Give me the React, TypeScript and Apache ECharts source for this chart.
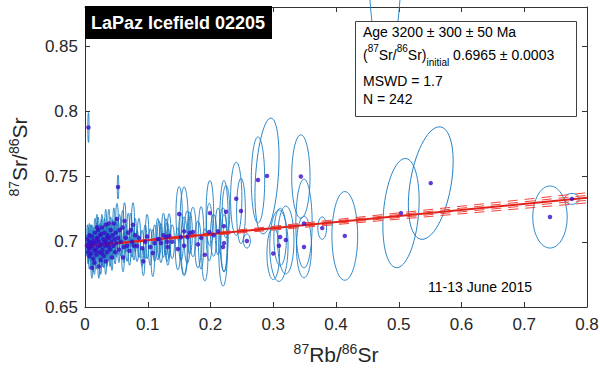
import React, { useEffect, useRef } from 'react';
import * as echarts from 'echarts';

// [87Rb/86Sr, 87Sr/86Sr, semi-axis x, semi-axis y, tilt deg]
const lowRbCluster: number[][] = [
  [0.003, 0.697, 0.0012, 0.008], [0.004, 0.702, 0.0012, 0.011], [0.005, 0.692, 0.0013, 0.009],
  [0.0055, 0.7876, 0.0010, 0.0115], [0.006, 0.699, 0.0014, 0.012], [0.007, 0.689, 0.0014, 0.010],
  [0.007, 0.705, 0.0014, 0.009], [0.008, 0.695, 0.0014, 0.008], [0.009, 0.700, 0.0014, 0.013],
  [0.010, 0.691, 0.0014, 0.010], [0.011, 0.680, 0.0014, 0.008], [0.011, 0.704, 0.0014, 0.009],
  [0.012, 0.697, 0.0014, 0.011], [0.013, 0.687, 0.0014, 0.010], [0.014, 0.701, 0.0014, 0.010],
  [0.015, 0.694, 0.0014, 0.012], [0.016, 0.707, 0.0016, 0.011], [0.017, 0.699, 0.0014, 0.009],
  [0.018, 0.690, 0.0014, 0.011], [0.019, 0.703, 0.0014, 0.012], [0.020, 0.696, 0.0014, 0.009],
  [0.021, 0.709, 0.0014, 0.010], [0.022, 0.681, 0.0014, 0.009], [0.022, 0.700, 0.0014, 0.013],
  [0.023, 0.692, 0.0014, 0.010], [0.024, 0.705, 0.0014, 0.009], [0.025, 0.686, 0.0014, 0.011],
  [0.026, 0.698, 0.0014, 0.011], [0.027, 0.711, 0.0014, 0.010], [0.028, 0.694, 0.0014, 0.013],
  [0.029, 0.702, 0.0016, 0.010], [0.030, 0.689, 0.0014, 0.009], [0.031, 0.707, 0.0014, 0.011],
  [0.032, 0.697, 0.0014, 0.010], [0.033, 0.713, 0.0014, 0.012], [0.034, 0.700, 0.0016, 0.011],
  [0.035, 0.692, 0.0014, 0.011], [0.036, 0.705, 0.0014, 0.010], [0.037, 0.698, 0.0014, 0.013],
  [0.038, 0.714, 0.0016, 0.011], [0.039, 0.703, 0.0014, 0.010], [0.040, 0.694, 0.0014, 0.013],
  [0.041, 0.709, 0.0014, 0.010], [0.042, 0.700, 0.0016, 0.012], [0.043, 0.688, 0.0014, 0.010],
  [0.044, 0.705, 0.0014, 0.012], [0.045, 0.697, 0.0014, 0.010], [0.046, 0.714, 0.0016, 0.012],
  [0.047, 0.702, 0.0014, 0.011], [0.048, 0.692, 0.0014, 0.009], [0.049, 0.707, 0.0014, 0.012],
  [0.050, 0.699, 0.0016, 0.011], [0.006, 0.695, 0.0012, 0.010], [0.009, 0.697, 0.0014, 0.009],
  [0.013, 0.699, 0.0014, 0.010], [0.017, 0.693, 0.0014, 0.011], [0.020, 0.702, 0.0014, 0.010],
  [0.024, 0.697, 0.0014, 0.012], [0.027, 0.691, 0.0014, 0.010], [0.031, 0.700, 0.0014, 0.011],
  [0.035, 0.703, 0.0014, 0.012], [0.038, 0.696, 0.0014, 0.010], [0.015, 0.684, 0.0014, 0.009],
  [0.019, 0.711, 0.0014, 0.010], [0.026, 0.706, 0.0014, 0.011], [0.033, 0.685, 0.0014, 0.010],
];

const midRb: number[][] = [
  [0.0526, 0.742, 0.0012, 0.0092], [0.051, 0.7175, 0.002, 0.012], [0.053, 0.703, 0.002, 0.013],
  [0.054, 0.694, 0.0016, 0.010], [0.055, 0.709, 0.002, 0.012], [0.057, 0.700, 0.0016, 0.011],
  [0.0606, 0.688, 0.002, 0.011], [0.060, 0.711, 0.002, 0.013], [0.062, 0.696, 0.002, 0.012],
  [0.063, 0.716, 0.0022, 0.014], [0.065, 0.703, 0.002, 0.011], [0.067, 0.697, 0.002, 0.012],
  [0.069, 0.707, 0.0022, 0.015], [0.071, 0.693, 0.002, 0.011], [0.073, 0.709, 0.002, 0.013],
  [0.075, 0.700, 0.002, 0.012], [0.0765, 0.713, 0.0025, 0.017], [0.078, 0.697, 0.002, 0.011],
  [0.080, 0.705, 0.002, 0.013], [0.083, 0.6968, 0.0025, 0.012], [0.086, 0.703, 0.0025, 0.015],
  [0.091, 0.695, 0.0025, 0.014], [0.093, 0.685, 0.0022, 0.011], [0.096, 0.700, 0.0025, 0.013],
  [0.099, 0.704, 0.0028, 0.017], [0.104, 0.696, 0.0028, 0.014], [0.108, 0.6914, 0.003, 0.018],
  [0.111, 0.699, 0.0028, 0.014], [0.116, 0.702, 0.003, 0.016], [0.118, 0.702, 0.003, 0.014],
  [0.121, 0.699, 0.003, 0.015], [0.125, 0.705, 0.003, 0.017], [0.129, 0.7037, 0.003, 0.014],
  [0.131, 0.700, 0.0035, 0.015], [0.132, 0.696, 0.003, 0.014], [0.134, 0.7045, 0.003, 0.017],
  [0.139, 0.700, 0.0035, 0.013],
];

const highRb: number[][] = [
  [0.148, 0.6945, 0.004, 0.016], [0.150, 0.7213, 0.005, 0.021], [0.153, 0.7035, 0.004, 0.018],
  [0.158, 0.697, 0.005, 0.022], [0.158, 0.708, 0.007, 0.034], [0.163, 0.7037, 0.005, 0.020],
  [0.167, 0.7067, 0.004, 0.016], [0.172, 0.7075, 0.005, 0.019], [0.180, 0.698, 0.005, 0.018],
  [0.185, 0.703, 0.0045, 0.024], [0.191, 0.690, 0.005, 0.020], [0.198, 0.7075, 0.005, 0.022],
  [0.199, 0.722, 0.006, 0.025], [0.205, 0.705, 0.005, 0.016], [0.212, 0.708, 0.0045, 0.018],
  [0.2215, 0.699, 0.005, 0.022], [0.220, 0.696, 0.007, 0.030], [0.2247, 0.723, 0.006, 0.020],
  [0.2215, 0.712, 0.007, 0.035], [0.241, 0.733, 0.009, 0.028], [0.2486, 0.7236, 0.007, 0.025],
  [0.258, 0.7006, 0.0055, 0.0054], [0.2757, 0.7474, 0.0107, 0.033], [0.290, 0.7505, 0.0181, 0.0445, 4],
];

const spreadRb: number[][] = [
  [0.300, 0.691, 0.010, 0.020], [0.309, 0.697, 0.0146, 0.0274], [0.311, 0.7037, 0.010, 0.022],
  [0.320, 0.7014, 0.013, 0.026], [0.344, 0.750, 0.0146, 0.032], [0.349, 0.714, 0.013, 0.034],
  [0.349, 0.696, 0.012, 0.0236], [0.378, 0.7105, 0.007, 0.0086], [0.414, 0.7045, 0.0205, 0.034],
  [0.5036, 0.722, 0.028, 0.042, 5], [0.551, 0.745, 0.0325, 0.0437, 10], [0.741, 0.719, 0.0274, 0.0238],
  [0.776, 0.7329, 0.0114, 0.0042], [0.478, 0.97, 0.030, 0.14],
];

// isochron fit and error envelopes
const fitX = [0, 0.8];
const fitY = [0.6965, 0.7337];
const envX = [0, 0.2, 0.4, 0.6, 0.8];
const outerUpper = [0.6969, 0.7068, 0.717, 0.7273, 0.7376];
const outerLower = [0.6961, 0.7048, 0.7132, 0.7215, 0.7298];
const innerUpper = [0.6967, 0.7063, 0.716, 0.7258, 0.7356];
const innerLower = [0.6963, 0.7053, 0.7142, 0.723, 0.7318];

const FONT = '"Liberation Sans", Arial, Helvetica, sans-serif';
const AX = '#333333';

export default function App() {
  const ref = useRef<HTMLDivElement>(null);
  useEffect(() => {
    document.body.style.margin = '0';
    const chart = echarts.init(ref.current!, null, { renderer: 'svg' });
    const all = [...lowRbCluster, ...midRb, ...highRb, ...spreadRb].map((d) => [d[0], d[1], d[2], d[3], d[4] || 0]);
    const zip = (xs: number[], ys: number[]) => xs.map((x, i) => [x, ys[i]]);
    const envStyle = { color: '#f0453c', width: 1, type: [10, 7] as any };
    const axisCommon = {
      type: 'value' as const,
      axisLine: { show: true, onZero: false, lineStyle: { color: AX, width: 1 } },
      axisTick: { show: true, inside: true, length: 5, lineStyle: { color: AX, width: 1 } },
      splitLine: { show: false },
    };
    const fmt = (v: number) => String(+v.toFixed(2));
    chart.setOption({
      animation: false,
      backgroundColor: '#fff',
      grid: { left: 85, right: 13, top: 7, bottom: 63, containLabel: false, outerBoundsMode: 'none' },
      xAxis: [
        {
          ...axisCommon, min: 0, max: 0.8, interval: 0.1, position: 'bottom',
          axisLabel: { fontSize: 17, color: '#262626', fontFamily: FONT, margin: 9, formatter: fmt },
          name: '{s|87}{m|Rb/}{s|86}{m|Sr}', nameLocation: 'middle', nameGap: 35,
          nameTextStyle: {
            fontFamily: FONT, color: '#262626', fontSize: 21, lineHeight: 24,
            rich: {
              s: { fontSize: 14, verticalAlign: 'top', fontFamily: FONT, color: '#262626' },
              m: { fontSize: 21, fontFamily: FONT, color: '#262626' },
            },
          },
        },
        { ...axisCommon, min: 0, max: 0.8, interval: 0.1, position: 'top', axisLabel: { show: false } },
      ],
      yAxis: [
        {
          ...axisCommon, min: 0.65, max: 0.88, interval: 0.05, position: 'left',
          axisLabel: { fontSize: 17, color: '#262626', fontFamily: FONT, margin: 7, formatter: fmt, showMaxLabel: false },
          name: '{s|87}{m|Sr/}{s|86}{m|Sr}', nameLocation: 'middle', nameGap: 54, nameRotate: 90,
          nameTextStyle: {
            fontFamily: FONT, color: '#262626', fontSize: 21, lineHeight: 24,
            rich: {
              s: { fontSize: 14, verticalAlign: 'top', fontFamily: FONT, color: '#262626' },
              m: { fontSize: 21, fontFamily: FONT, color: '#262626' },
            },
          },
        },
        { ...axisCommon, min: 0.65, max: 0.88, interval: 0.05, position: 'right', axisLabel: { show: false } },
      ],
      series: [
        {
          type: 'custom',
          clip: false,
          xAxisIndex: 0,
          yAxisIndex: 0,
          data: all,
          z: 2,
          renderItem: (params: any, api: any) => {
            const c = api.coord([api.value(0), api.value(1)]);
            const s = api.size([api.value(2), api.value(3)]);
            return {
              type: 'ellipse',
              x: c[0],
              y: c[1],
              rotation: (-api.value(4) * Math.PI) / 180,
              shape: { cx: 0, cy: 0, rx: s[0], ry: s[1] },
              style: { fill: 'none', stroke: '#1b7cc2', lineWidth: 0.9 },
            };
          },
        },
        { type: 'line', data: zip(envX, outerUpper), symbol: 'none', lineStyle: envStyle, z: 3 },
        { type: 'line', data: zip(envX, outerLower), symbol: 'none', lineStyle: envStyle, z: 3 },
        { type: 'line', data: zip(envX, innerUpper), symbol: 'none', lineStyle: envStyle, z: 3 },
        { type: 'line', data: zip(envX, innerLower), symbol: 'none', lineStyle: envStyle, z: 3 },
        { type: 'line', data: zip(fitX, fitY), symbol: 'none', lineStyle: { color: '#e2231a', width: 2 }, z: 4 },
        {
          type: 'scatter',
          data: all.map((d) => [d[0], d[1]]),
          symbolSize: 4.5,
          itemStyle: { color: '#3a0cc8' },
          z: 5,
        },
      ],
      graphic: [
        { type: 'rect', z: 100, shape: { x: 85, y: 6, width: 187, height: 33 }, style: { fill: '#000' } },
        {
          type: 'text', z: 101, x: 91, y: 23,
          style: { text: 'LaPaz Icefield 02205', fill: '#fff', fontSize: 18, fontWeight: 'bold', fontFamily: FONT, verticalAlign: 'middle' },
        },
        {
          type: 'rect', z: 100, shape: { x: 355.5, y: 21.5, width: 221, height: 95 },
          style: { fill: '#fff', stroke: '#404040', lineWidth: 1 },
        },
        {
          type: 'text', z: 101, x: 363, y: 32,
          style: { text: 'Age 3200 ± 300 ± 50 Ma', fill: '#000', fontSize: 14, fontFamily: FONT, verticalAlign: 'middle' },
        },
        {
          type: 'text', z: 101, x: 363, y: 55,
          style: {
            text: '({s|87}Sr/{s|86}Sr){i|initial} 0.6965 ± 0.0003',
            fill: '#000', fontSize: 14, fontFamily: FONT, verticalAlign: 'middle', lineHeight: 24,
            rich: {
              s: { fontSize: 10, verticalAlign: 'top', fontFamily: FONT, fill: '#000' },
              i: { fontSize: 10, verticalAlign: 'bottom', fontFamily: FONT, fill: '#000' },
            },
          },
        },
        {
          type: 'text', z: 101, x: 363, y: 81,
          style: { text: 'MSWD = 1.7', fill: '#000', fontSize: 14, fontFamily: FONT, verticalAlign: 'middle' },
        },
        {
          type: 'text', z: 101, x: 363, y: 99,
          style: { text: 'N = 242', fill: '#000', fontSize: 14, fontFamily: FONT, verticalAlign: 'middle' },
        },
        {
          type: 'text', z: 101, x: 428, y: 287,
          style: { text: '11-13 June 2015', fill: '#000', fontSize: 14, fontFamily: FONT, verticalAlign: 'middle' },
        },
      ],
    });
    return () => chart.dispose();
  }, []);
  return <div ref={ref} style={{ width: 600, height: 370 }} />;
}
